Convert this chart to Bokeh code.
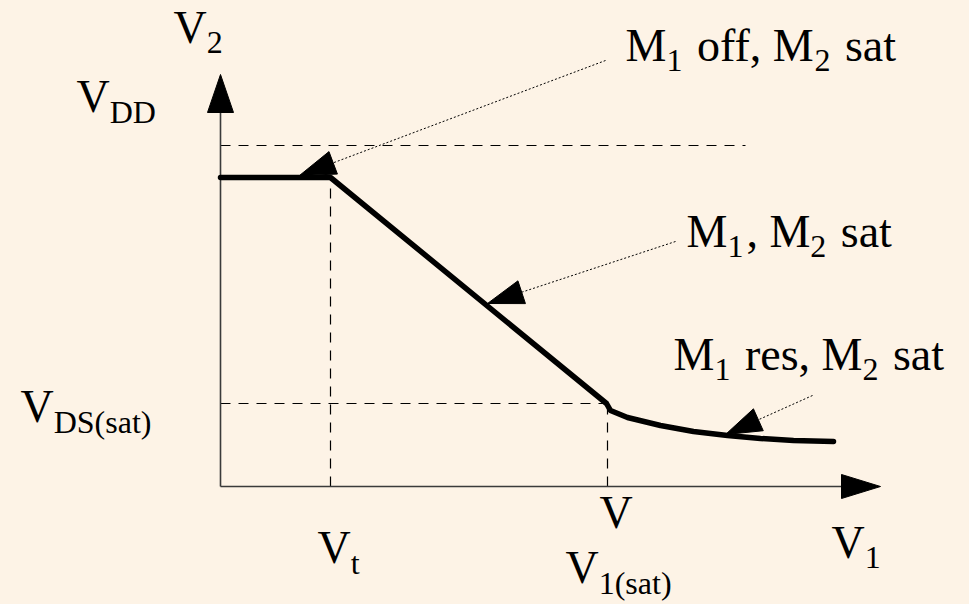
import numpy as np
from bokeh.plotting import figure
from bokeh.models import Range1d, GlobalInlineStyleSheet
from bokeh.core.properties import value
from bokeh.embed import file_html
from bokeh.resources import INLINE

# ---------------- data (volts, arbitrary units) ----------------
V_T = 1.10          # threshold voltage on V1 axis
V1_SAT = 3.87       # V1 at which M1 enters resistive region
V_DD = 3.41         # supply level (dashed)
V2_HIGH = 3.09      # output plateau while M1 off
VDS_SAT = 0.83      # output at V1(sat)
V1_AXIS_END = 6.60
V2_AXIS_END = 4.12
VDD_LINE_END = 5.25

# transfer curve
curve_x = [0.00, 1.10, 3.86, 3.90, 4.07, 4.40, 4.73, 5.07, 5.40, 5.73, 6.13]
curve_y = [3.09, 3.09, 0.83, 0.76, 0.69, 0.61, 0.55, 0.51, 0.48, 0.46, 0.45]

# annotation leaders: start (near label) -> tip (on curve)
ann_start_x = [3.85, 4.55, 5.92]
ann_start_y = [4.26, 2.45, 0.91]
ann_tip_x = [0.79, 2.67, 5.05]
ann_tip_y = [3.11, 1.83, 0.52]

# labels: pieces (text, is_subscript)
label_pieces = [
    [("V", 0), ("2", 1)],
    [("V", 0), ("DD", 1)],
    [("V", 0), ("DS(sat)", 1)],
    [("V", 0), ("t", 1)],
    [("V", 0)],
    [("V", 0), ("1(sat)", 1)],
    [("V", 0), ("1", 1)],
    [("M", 0), ("1", 1), (" off, M", 0), ("2", 1), (" sat", 0)],
    [("M", 0), ("1", 1), (", M", 0), ("2", 1), (" sat", 0)],
    [("M", 0), ("1", 1), (" res, M", 0), ("2", 1), (" sat", 0)],
]

# ---------------- layout / style ----------------
BG = "#FDF3E6"
PX = 0.01                      # data units per screen pixel
MAIN_PX, SUB_PX, SUB_SHIFT = 46, 32, 15
SUB_PAD = 3                    # extra px after a subscript
TEXT_DY = 16                   # baseline correction (px, upward)
FONT = "Liberation Serif"
label_anchor_x = [-0.47, -1.44, -2.00, 0.97, 3.79, 3.45, 6.11, 4.05, 4.66, 4.53]
label_anchor_y = [4.43, 3.74, 0.64, -0.77, -0.42, -0.97, -0.72, 4.25, 2.39, 1.16]

# Times metrics (1/1000 em)
W = {"M": 889, "V": 722, "D": 722, "S": 556, " ": 250, "o": 500, "f": 333,
     ",": 250, "s": 389, "a": 444, "t": 278, "r": 333, "e": 444, "(": 333,
     ")": 333, "1": 500, "2": 500}


def adv(s, size):
    return sum(W.get(c, 500) for c in s) / 1000.0 * size * PX


p = figure(width=969, height=604,
           x_range=Range1d(-2.20, 7.49), y_range=Range1d(-1.18, 4.86),
           output_backend="svg", toolbar_location=None, min_border=0,
           x_axis_type=None, y_axis_type=None,
           background_fill_color=BG, border_fill_color=BG,
           outline_line_color=None)
p.grid.visible = False
p.stylesheets = [GlobalInlineStyleSheet(
    css=f"html, body {{ background: {BG}; margin: 0; overflow: hidden; }}")]


def head(tx, ty, sx, sy, L, Wd):
    d = np.array([tx - sx, ty - sy], dtype=float)
    d /= np.hypot(*d)
    n = np.array([-d[1], d[0]])
    bx, by = tx - d[0] * L, ty - d[1] * L
    xs = [tx, bx + n[0] * Wd / 2, bx - n[0] * Wd / 2]
    ys = [ty, by + n[1] * Wd / 2, by - n[1] * Wd / 2]
    return xs, ys, bx, by


# dashed guide lines
p.segment(x0=[0, 0, V_T, V1_SAT], y0=[V_DD, VDS_SAT, 0, 0],
          x1=[VDD_LINE_END, V1_SAT, V_T, V1_SAT], y1=[V_DD, VDS_SAT, V2_HIGH, VDS_SAT],
          line_color="black", line_width=1.2, line_dash="10 8")

# axes with arrowheads
hx_x, hx_y, bxx, bxy = head(V1_AXIS_END, 0, 0, 0, 39 * PX, 24 * PX)
hy_x, hy_y, byx, byy = head(0, V2_AXIS_END, 0, 0, 38 * PX, 26 * PX)
p.segment(x0=[0, 0], y0=[0, 0], x1=[bxx, byx], y1=[bxy, byy],
          line_color="#3a3a3a", line_width=1.6)
p.patches([hx_x, hy_x], [hx_y, hy_y], fill_color="black", line_color="black")

# transfer curve
p.line(curve_x, curve_y, line_color="black", line_width=5.5,
       line_cap="round", line_join="round")

# annotation leaders
axs, ays, lx0, ly0, lx1, ly1 = [], [], [], [], [], []
for sx, sy, tx, ty in zip(ann_start_x, ann_start_y, ann_tip_x, ann_tip_y):
    xs, ys, bx, by = head(tx, ty, sx, sy, 36 * PX, 24 * PX)
    axs.append(xs); ays.append(ys)
    lx0.append(sx); ly0.append(sy); lx1.append(bx); ly1.append(by)
p.segment(x0=lx0, y0=ly0, x1=lx1, y1=ly1, line_color="black",
          line_width=1.0, line_dash="2 2")
p.patches(axs, ays, fill_color="black", line_color="black")

# labels with subscripts
main = dict(x=[], y=[], t=[])
sub = dict(x=[], y=[], t=[])
for pieces, ax, ay in zip(label_pieces, label_anchor_x, label_anchor_y):
    cx = ax
    by = ay + TEXT_DY * PX
    for txt, is_sub in pieces:
        size = SUB_PX if is_sub else MAIN_PX
        lead = len(txt) - len(txt.lstrip(" "))
        cx += adv(" " * lead, size)
        core = txt.strip(" ")
        tgt = sub if is_sub else main
        tgt["x"].append(cx)
        tgt["y"].append(by - (SUB_SHIFT * PX if is_sub else 0))
        tgt["t"].append(core)
        cx += adv(core, size)
        trail = len(txt) - len(txt.rstrip(" "))
        cx += adv(" " * trail, size)
        if is_sub:
            cx += SUB_PAD * PX

p.text(main["x"], main["y"], text=main["t"], text_font=value(FONT),
       text_font_size=f"{MAIN_PX}px", text_baseline="alphabetic",
       text_align="left", text_color="black")
p.text(sub["x"], sub["y"], text=sub["t"], text_font=value(FONT),
       text_font_size=f"{SUB_PX}px", text_baseline="alphabetic",
       text_align="left", text_color="black")

open("out.html", "w").write(file_html(p, INLINE))
